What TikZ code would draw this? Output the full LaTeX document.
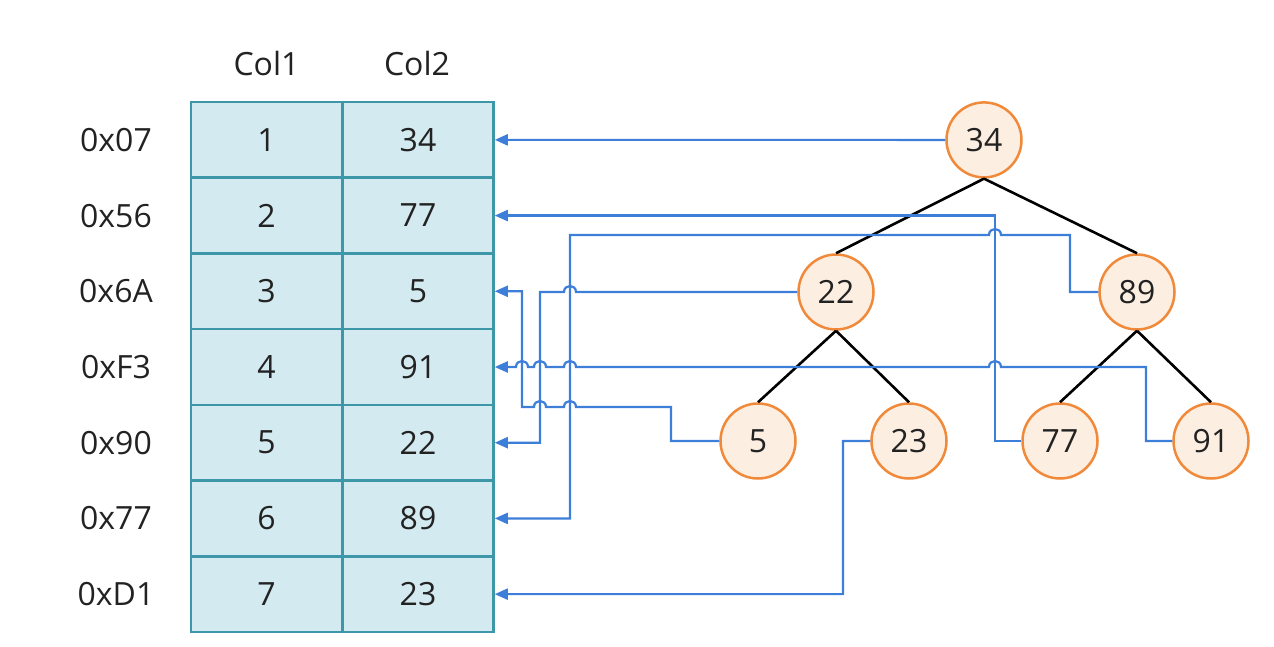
\documentclass[tikz,border=0pt]{standalone}
\usepackage{fontspec}
\setmainfont{Open Sans}
\usetikzlibrary{arrows.meta}
\definecolor{cellfill}{HTML}{D3EAF0}
\definecolor{celldraw}{HTML}{3E97A8}
\definecolor{nodefill}{HTML}{FDEEE2}
\definecolor{nodedraw}{HTML}{F08A3A}
\definecolor{linkblue}{HTML}{3D7ED8}
\definecolor{txt}{HTML}{222222}
\begin{document}
\begin{tikzpicture}[x=1pt,y=-1pt,
  bigfont/.style={font=\fontsize{32}{38}\selectfont,text=txt},
  cell/.style={bigfont,draw=celldraw,fill=cellfill,line width=2.5pt,minimum width=151pt,minimum height=75.7pt,inner sep=0pt},
  tnode/.style={bigfont,circle,draw=nodedraw,fill=nodefill,line width=2.5pt,minimum size=75pt,inner sep=0pt},
  lbl/.style={bigfont,inner sep=0pt},
  link/.style={draw=linkblue,line width=2.2pt,-{Triangle[length=13pt,width=11pt]}},
  treeedge/.style={draw=black,line width=2.6pt}]
\useasboundingbox (0,0) rectangle (1274,646);
% headers
\node[lbl] (h1) at (266.5,63) {Col1};
\node[lbl] (h2) at (417,63) {Col2};
% table
\foreach \i/\a/\b/\l in {1/1/34/0x07,2/2/77/0x56,3/3/5/0x6A,4/4/91/0xF3,5/5/22/0x90,6/6/89/0x77,7/7/23/0xD1}{
  \node[cell] (a\i) at (266.5,{102+75.71*(\i-0.5)}) {\a};
  \node[cell] (b\i) at (418,{102+75.71*(\i-0.5)}) {\b};
  \node[lbl] (l\i) at (116,{102+75.71*(\i-0.5)}) {\l};
}
% tree
\node[tnode] (c34) at (984,139.9) {34};
\node[tnode] (c22) at (836,292) {22};
\node[tnode] (c89) at (1137,292) {89};
\node[tnode] (c5) at (758,441) {5};
\node[tnode] (c23) at (909,441) {23};
\node[tnode] (c77) at (1060,441) {77};
\node[tnode] (c91) at (1211,441) {91};
\draw[treeedge] (c34.south) -- (c22.north);
\draw[treeedge] (c34.south) -- (c89.north);
\draw[treeedge] (c22.south) -- (c5.north);
\draw[treeedge] (c22.south) -- (c23.north);
\draw[treeedge] (c89.south) -- (c77.north);
\draw[treeedge] (c89.south) -- (c91.north);
% links
\draw[link] (c34.west) -- (b1.east);
\draw[link] (c77.west) -- (995,441) |- (b2.east);
\draw[link] (c89.west) -| (1070,235) -- (1001,235)
  .. controls (1001,227) and (989,227) .. (989,235) -- (570,235) |- (b6.east);
\draw[link] (c22.west) -- (576,292)
  .. controls (576,284) and (564,284) .. (564,292) -- (540,292) |- (b5.east);
\draw[link] (c5.west) -| (671,407) -- (576,407)
  .. controls (576,399) and (564,399) .. (564,407) -- (546,407)
  .. controls (546,399) and (534,399) .. (534,407) -- (522,407) |- (b3.east);
\draw[link] (c91.west) -| (1146,367) -- (1001,367)
  .. controls (1001,359) and (989,359) .. (989,367) -- (576,367)
  .. controls (576,359) and (564,359) .. (564,367) -- (546,367)
  .. controls (546,359) and (534,359) .. (534,367) -- (528,367)
  .. controls (528,359) and (516,359) .. (516,367) -- (b4.east);
\draw[link] (c23.west) -| (843,594.1) -- (b7.east);
\end{tikzpicture}
\end{document}
